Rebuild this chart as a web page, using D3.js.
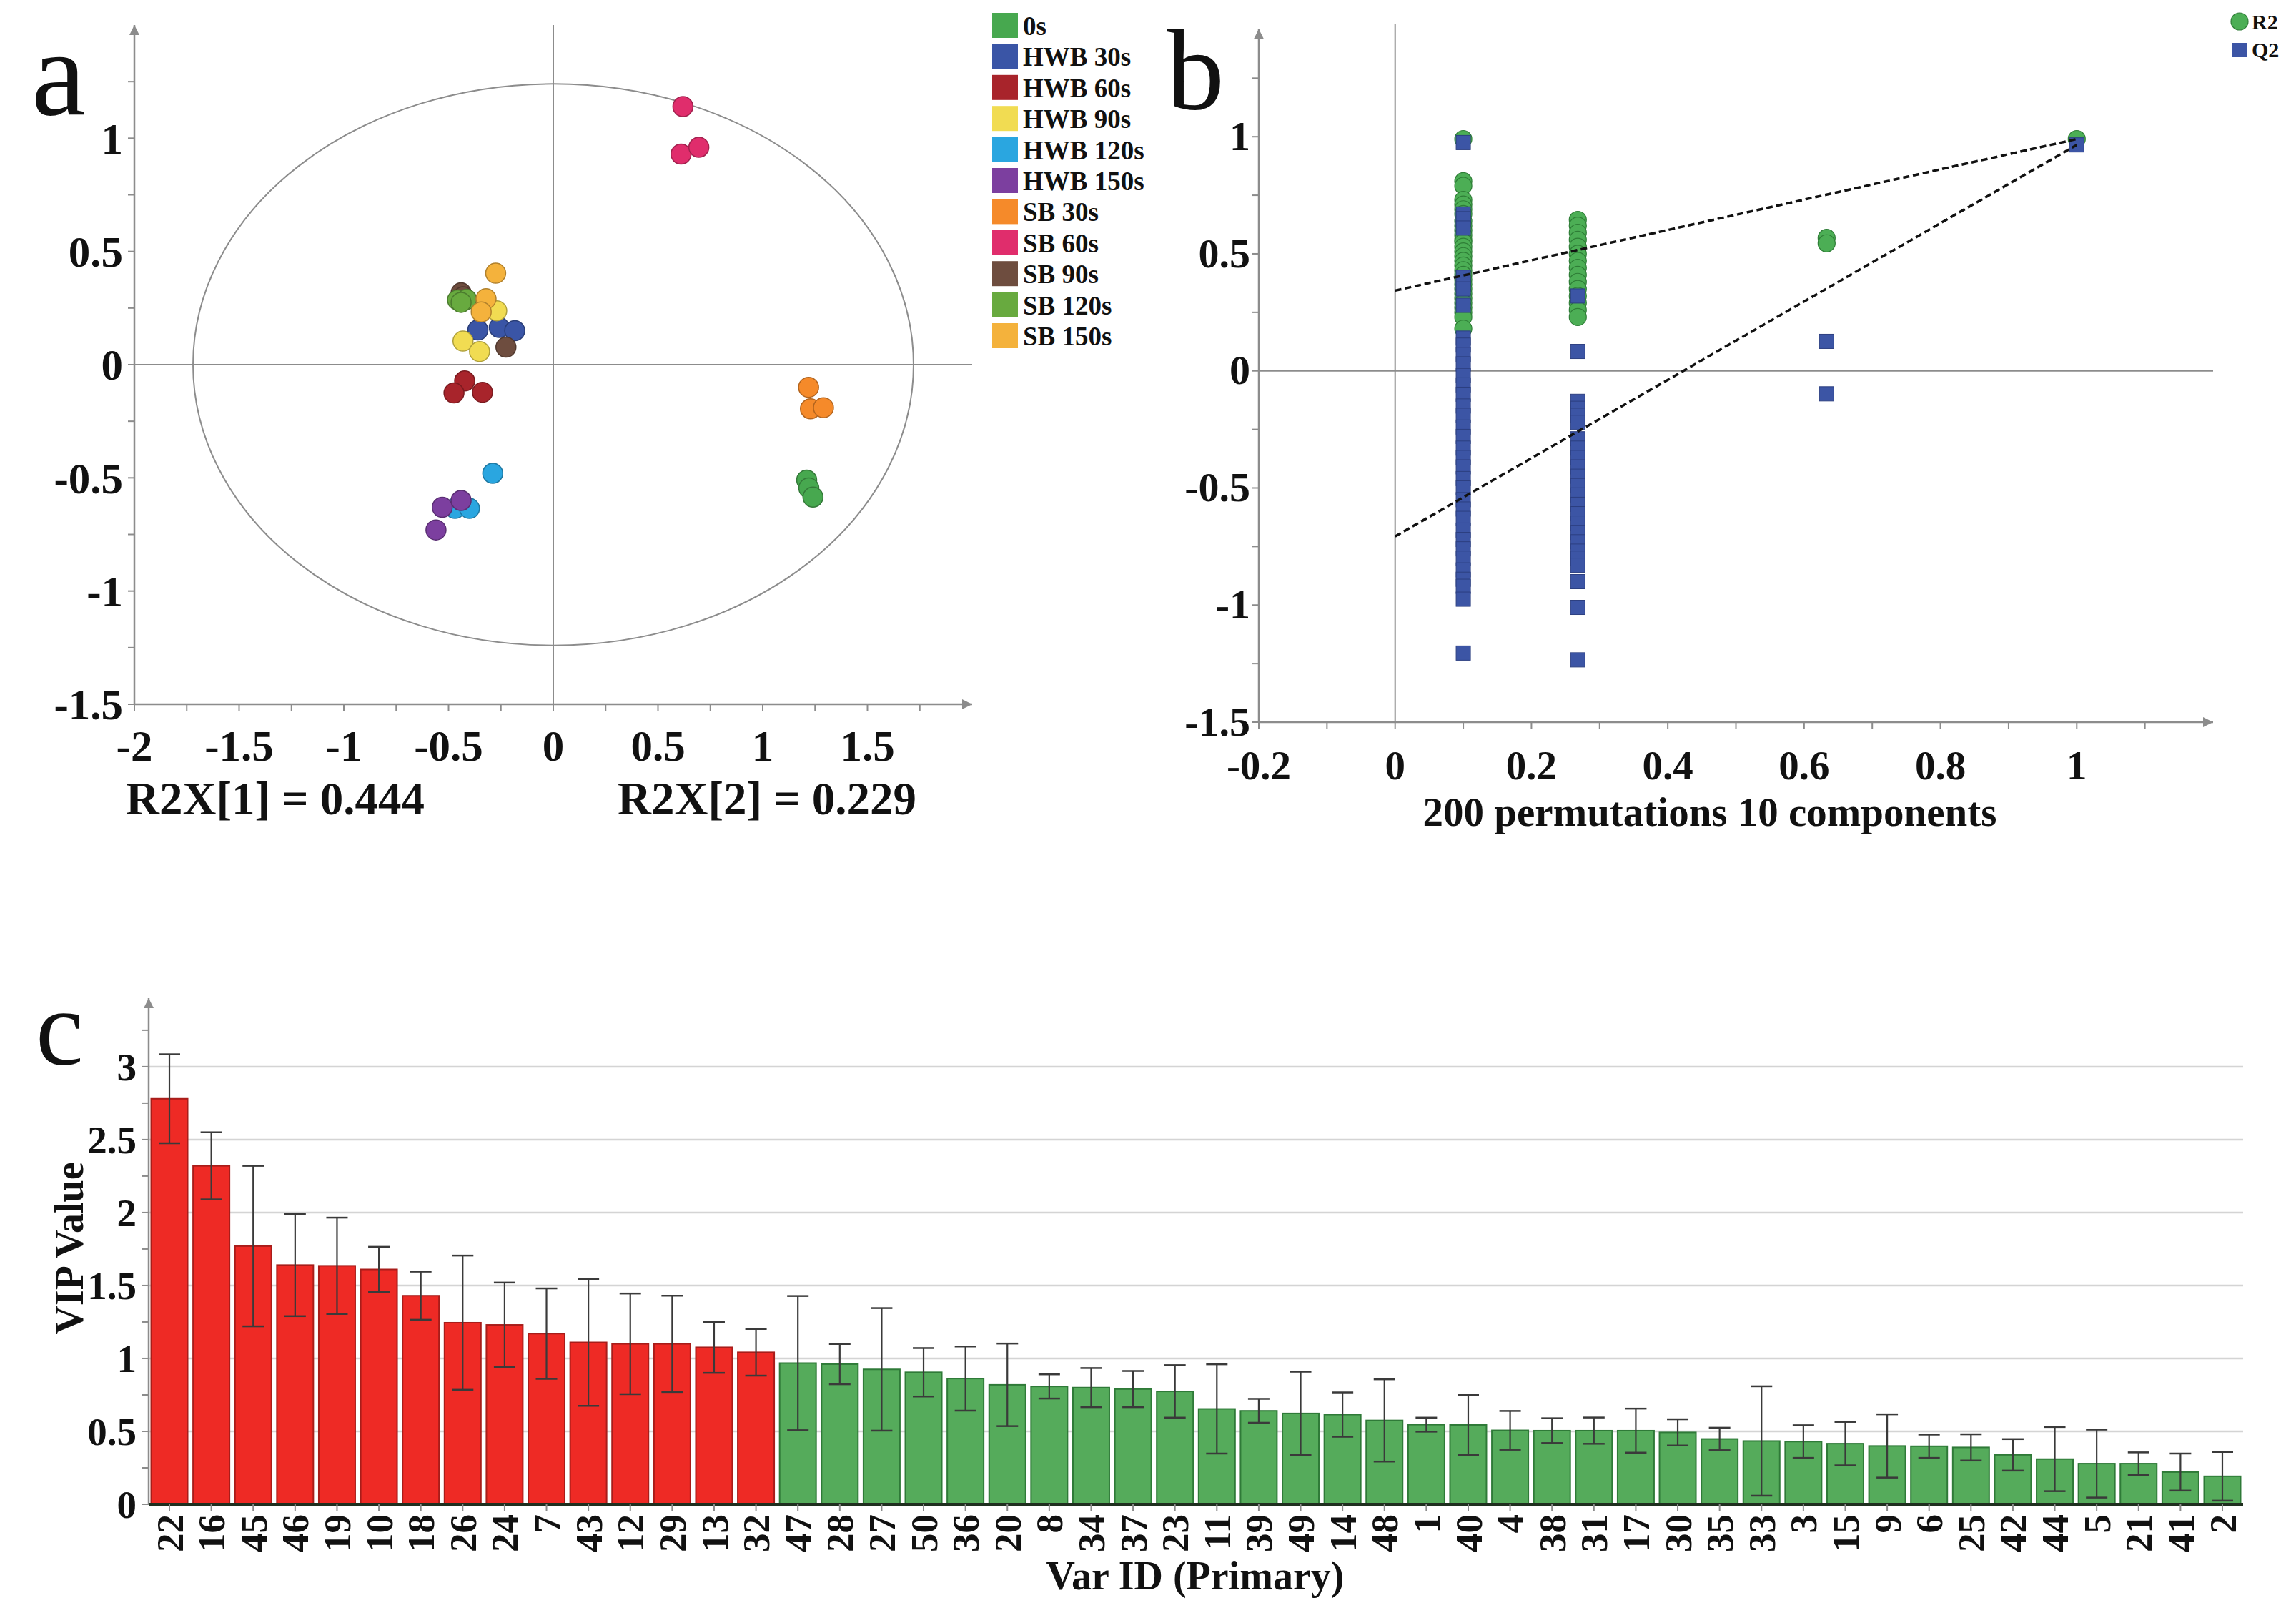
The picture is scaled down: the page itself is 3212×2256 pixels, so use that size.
<!DOCTYPE html>
<html>
<head>
<meta charset="utf-8">
<script src="https://cdn.jsdelivr.net/npm/d3@7"></script>
<style>
  body { margin: 0; background: #fff; }
  svg { display: block; }
</style>
</head>
<body>
<svg width="3212" height="2256"></svg>
<script>
const W = 3212, H = 2256;
const SERIF = '"Liberation Serif", "Times New Roman", serif';

// ---- panel a: score plot ----
const groups = ['0s', 'HWB 30s', 'HWB 60s', 'HWB 90s', 'HWB 120s', 'HWB 150s',
                'SB 30s', 'SB 60s', 'SB 90s', 'SB 120s', 'SB 150s'];
const groupColors = ['#47a84f', '#3a55a6', '#a8242b', '#f1dc52', '#2aa6e0', '#7c3f9f',
                     '#f58a2a', '#e02d6c', '#6e4d3f', '#68aa3f', '#f4b23c'];
const scoreGroup = [0,0,0, 1,1,1, 2,2,2, 3,3,3, 4,4,4, 5,5,5, 6,6,6, 7,7,7, 8,8,8, 9,9,9, 10,10,10];
const scoreT1 = [1.21, 1.22, 1.24,  -0.36, -0.258, -0.184,  -0.423, -0.474, -0.338,
                 -0.27, -0.431, -0.352,  -0.289, -0.469, -0.40,  -0.53, -0.44, -0.56,
                 1.219, 1.228, 1.29,  0.619, 0.61, 0.695,  -0.44, -0.43, -0.226,
                 -0.457, -0.414, -0.44,  -0.275, -0.321, -0.344];
const scoreT2 = [-0.51, -0.545, -0.585,  0.153, 0.164, 0.15,  -0.072, -0.125, -0.122,
                 0.238, 0.104, 0.058,  -0.48, -0.635, -0.635,  -0.63, -0.60, -0.73,
                 -0.10, -0.195, -0.19,  1.14, 0.93, 0.96,  0.317, 0.30, 0.077,
                 0.286, 0.288, 0.275,  0.404, 0.291, 0.233];
const ellipseRadii = [1.72, 1.24];
const r2xLabels = ['R2X[1] = 0.444', 'R2X[2] = 0.229'];

// ---- panel b: permutation test ----
const permCorr = [0.1, 0.268, 0.633, 1.0];
const r2Perm = [
  [0.99, 0.81, 0.79, 0.73, 0.71, 0.69, 0.67, 0.64, 0.62, 0.60, 0.58, 0.56, 0.55, 0.53, 0.51,
   0.49, 0.47, 0.45, 0.43, 0.41, 0.39, 0.37, 0.35, 0.33, 0.31, 0.29, 0.27, 0.25, 0.23, 0.18],
  [0.645, 0.62, 0.59, 0.56, 0.53, 0.50, 0.47, 0.44, 0.41, 0.38, 0.35, 0.32, 0.29, 0.26, 0.23],
  [0.568, 0.545],
  [0.99]
];
const q2Perm = [
  [0.975, 0.67, 0.65, 0.61, 0.40, 0.37, 0.35, 0.28, 0.14, 0.11, 0.07, 0.03, -0.02, -0.06,
   -0.10, -0.15, -0.19, -0.24, -0.28, -0.33, -0.37, -0.41, -0.46, -0.50, -0.55, -0.59,
   -0.63, -0.68, -0.72, -0.76, -0.80, -0.85, -0.89, -0.92, -0.975, -1.205],
  [0.32, 0.083, -0.13, -0.16, -0.19, -0.22, -0.29, -0.33, -0.37, -0.41, -0.45, -0.49,
   -0.53, -0.57, -0.61, -0.65, -0.69, -0.73, -0.77, -0.80, -0.83, -0.90, -1.01, -1.234],
  [0.126, -0.098],
  [0.965]
];
const r2Intercept = 0.343;
const q2Intercept = -0.707;
const permTitle = '200 permutations 10 components';

// ---- panel c: VIP ----
const varIds = [22, 16, 45, 46, 19, 10, 18, 26, 24, 7, 43, 12, 29, 13, 32, 47, 28, 27, 50, 36,
                20, 8, 34, 37, 23, 11, 39, 49, 14, 48, 1, 40, 4, 38, 31, 17, 30, 35, 33, 3,
                15, 9, 6, 25, 42, 44, 5, 21, 41, 2];
const vipValues = [2.78, 2.32, 1.77, 1.64, 1.635, 1.61, 1.43, 1.245, 1.23, 1.17, 1.11, 1.10, 1.10,
                   1.076, 1.042, 0.968, 0.961, 0.925, 0.905, 0.862, 0.819, 0.808, 0.80, 0.79, 0.774,
                   0.654, 0.641, 0.623, 0.615, 0.575, 0.546, 0.544, 0.507, 0.505, 0.505, 0.505,
                   0.493, 0.448, 0.434, 0.43, 0.416, 0.40, 0.398, 0.39, 0.339, 0.31, 0.279, 0.279,
                   0.221, 0.192];
const vipErrors = [0.305, 0.23, 0.55, 0.35, 0.33, 0.155, 0.165, 0.46, 0.29, 0.31, 0.435, 0.345, 0.33,
                   0.175, 0.16, 0.46, 0.138, 0.42, 0.166, 0.22, 0.283, 0.083, 0.134, 0.124, 0.18,
                   0.306, 0.082, 0.286, 0.152, 0.282, 0.048, 0.205, 0.133, 0.085, 0.09, 0.151,
                   0.09, 0.077, 0.375, 0.112, 0.149, 0.217, 0.08, 0.09, 0.108, 0.22, 0.233, 0.077,
                   0.127, 0.167];

const svg = d3.select('svg');
svg.append('rect').attr('width', W).attr('height', H).attr('fill', '#fff');

const AXIS = '#8c8c8c';
svg.append('defs').append('marker')
  .attr('id', 'arrow')
  .attr('viewBox', '0 0 10 10')
  .attr('refX', 10).attr('refY', 5)
  .attr('markerUnits', 'userSpaceOnUse')
  .attr('markerWidth', 24).attr('markerHeight', 14)
  .attr('orient', 'auto')
  .append('path').attr('d', 'M0,0 L10,5 L0,10 z').attr('fill', AXIS);

const fmt = d => String(+d.toFixed(2));
const steps = (a, b, s) => d3.range(Math.round((b - a) / s) + 1).map(i => +(a + i * s).toFixed(3));

function axisLine(g, x1, y1, x2, y2, arrow) {
  const l = g.append('line')
    .attr('x1', x1).attr('y1', y1).attr('x2', x2).attr('y2', y2)
    .attr('stroke', AXIS).attr('stroke-width', 2.5);
  if (arrow) l.attr('marker-end', 'url(#arrow)');
  return l;
}

function drawXTicks(g, x, yPos, ticks, labels, size, labelY) {
  g.selectAll(null).data(ticks).join('line')
    .attr('x1', d => x(d)).attr('x2', d => x(d))
    .attr('y1', yPos).attr('y2', yPos + 9)
    .attr('stroke', AXIS).attr('stroke-width', 2);
  g.selectAll(null).data(labels).join('text')
    .attr('x', d => x(d)).attr('y', labelY)
    .attr('text-anchor', 'middle')
    .attr('font-family', SERIF).attr('font-weight', 'bold').attr('font-size', size)
    .attr('fill', '#111')
    .text(fmt);
}

function drawYTicks(g, y, xPos, ticks, labels, size, labelX, dy = '0.35em') {
  g.selectAll(null).data(ticks).join('line')
    .attr('x1', xPos - 9).attr('x2', xPos)
    .attr('y1', d => y(d)).attr('y2', d => y(d))
    .attr('stroke', AXIS).attr('stroke-width', 2);
  g.selectAll(null).data(labels).join('text')
    .attr('x', labelX).attr('y', d => y(d))
    .attr('dy', dy)
    .attr('text-anchor', 'end')
    .attr('font-family', SERIF).attr('font-weight', 'bold').attr('font-size', size)
    .attr('fill', '#111')
    .text(fmt);
}

function panelLetter(txt, x, y, size) {
  svg.append('text').attr('x', x).attr('y', y)
    .attr('font-family', SERIF).attr('font-size', size).attr('fill', '#111')
    .text(txt);
}

// ================= panel a =================
{
  const g = svg.append('g');
  const x = d3.scaleLinear([-2, 2], [188, 1360]);
  const y = d3.scaleLinear([-1.5, 1.5], [985, 35]);

  // zero lines
  axisLine(g, x(0), y(1.5), x(0), y(-1.5), false).attr('stroke-width', 2);
  axisLine(g, x(-2), y(0), x(2), y(0), false).attr('stroke-width', 2);

  // Hotelling ellipse
  g.append('ellipse')
    .attr('cx', x(0)).attr('cy', y(0))
    .attr('rx', x(ellipseRadii[0]) - x(0))
    .attr('ry', y(0) - y(ellipseRadii[1]))
    .attr('fill', 'none').attr('stroke', '#8c8c8c').attr('stroke-width', 2);

  // axes
  axisLine(g, x(-2), y(-1.5), x(-2), y(1.5), true);
  axisLine(g, x(-2), y(-1.5), x(2), y(-1.5), true);
  drawXTicks(g, x, y(-1.5), steps(-2, 1.75, 0.25), steps(-2, 1.5, 0.5), 61, 1064);
  drawYTicks(g, y, x(-2), steps(-1.5, 1.25, 0.25), steps(-1.5, 1, 0.5), 61, 172);

  // scores
  g.selectAll('circle.score').data(scoreT1.map((t, i) => i)).join('circle')
    .attr('class', 'score')
    .attr('cx', i => x(scoreT1[i])).attr('cy', i => y(scoreT2[i]))
    .attr('r', 14)
    .attr('fill', i => groupColors[scoreGroup[i]])
    .attr('stroke', i => d3.color(groupColors[scoreGroup[i]]).darker(0.9))
    .attr('stroke-width', 1.5);

  // R2X labels
  g.append('text').attr('x', 176).attr('y', 1139)
    .attr('font-family', SERIF).attr('font-weight', 'bold').attr('font-size', 65)
    .attr('fill', '#111').text(r2xLabels[0]);
  g.append('text').attr('x', 864).attr('y', 1139)
    .attr('font-family', SERIF).attr('font-weight', 'bold').attr('font-size', 65)
    .attr('fill', '#111').text(r2xLabels[1]);

  // legend
  const lg = g.append('g');
  lg.selectAll('rect').data(groups).join('rect')
    .attr('x', 1388).attr('y', (d, i) => 18 + i * 43.4)
    .attr('width', 36).attr('height', 35)
    .attr('fill', (d, i) => groupColors[i]);
  lg.selectAll('text').data(groups).join('text')
    .attr('x', 1431).attr('y', (d, i) => 18 + i * 43.4 + 31)
    .attr('font-family', SERIF).attr('font-weight', 'bold').attr('font-size', 37)
    .attr('fill', '#111').text(d => d);

  panelLetter('a', 44, 160, 172);
}

// ================= panel b =================
{
  const g = svg.append('g');
  const x = d3.scaleLinear([-0.2, 1.2], [1761, 3096]);
  const y = d3.scaleLinear([-1.5, 1.48], [1010, 34]);

  axisLine(g, x(0), y(1.48), x(0), y(-1.5), false).attr('stroke-width', 2);
  axisLine(g, x(-0.2), y(0), x(1.2), y(0), false).attr('stroke-width', 2);

  axisLine(g, x(-0.2), y(-1.5), x(-0.2), y(1.46), true);
  axisLine(g, x(-0.2), y(-1.5), x(1.2), y(-1.5), true);
  drawXTicks(g, x, y(-1.5), steps(-0.2, 1.1, 0.1), steps(-0.2, 1, 0.2), 57, 1090);
  drawYTicks(g, y, x(-0.2), steps(-1.5, 1.25, 0.25), steps(-1.5, 1, 0.5), 58, 1749, '0.32em');

  const r2Pts = permCorr.flatMap((c, i) => r2Perm[i].map(v => [c, v]));
  const q2Pts = permCorr.flatMap((c, i) => q2Perm[i].map(v => [c, v]));

  g.selectAll('circle.r2').data(r2Pts).join('circle')
    .attr('class', 'r2')
    .attr('cx', d => x(d[0])).attr('cy', d => y(d[1]))
    .attr('r', 12)
    .attr('fill', '#4cae55').attr('stroke', '#2e7d36').attr('stroke-width', 1.2);
  g.selectAll('rect.q2').data(q2Pts).join('rect')
    .attr('class', 'q2')
    .attr('x', d => x(d[0]) - 10).attr('y', d => y(d[1]) - 10)
    .attr('width', 20).attr('height', 20)
    .attr('fill', '#3c55a5').attr('stroke', '#2c3f80').attr('stroke-width', 1);

  const last = permCorr.length - 1;
  const lines = [
    [[0, r2Intercept], [permCorr[last], r2Perm[last][0]]],
    [[0, q2Intercept], [permCorr[last], q2Perm[last][0]]]
  ];
  g.selectAll('path.reg').data(lines).join('path')
    .attr('class', 'reg')
    .attr('d', d3.line().x(d => x(d[0])).y(d => y(d[1])))
    .attr('fill', 'none').attr('stroke', '#111')
    .attr('stroke-width', 3.5).attr('stroke-dasharray', '9,5');

  g.append('text').attr('x', 2392).attr('y', 1155)
    .attr('text-anchor', 'middle')
    .attr('font-family', SERIF).attr('font-weight', 'bold').attr('font-size', 57)
    .attr('fill', '#111').text(permTitle);

  // legend
  g.append('circle').attr('cx', 3133).attr('cy', 30).attr('r', 12)
    .attr('fill', '#4cae55').attr('stroke', '#2e7d36').attr('stroke-width', 1.2);
  g.append('text').attr('x', 3150).attr('y', 41)
    .attr('font-family', SERIF).attr('font-weight', 'bold').attr('font-size', 30)
    .attr('fill', '#111').text('R2');
  g.append('rect').attr('x', 3123).attr('y', 60).attr('width', 20).attr('height', 20)
    .attr('fill', '#3c55a5');
  g.append('text').attr('x', 3150).attr('y', 80)
    .attr('font-family', SERIF).attr('font-weight', 'bold').attr('font-size', 30)
    .attr('fill', '#111').text('Q2');

  panelLetter('b', 1632, 152, 162);
}

// ================= panel c =================
{
  const g = svg.append('g');
  const x = d3.scaleBand(varIds.map(String), [208, 3138]).paddingInner(0.13).paddingOuter(0.06);
  const y = d3.scaleLinear([0, 3.47], [2104, 1396]);

  // gridlines
  g.selectAll('line.grid').data(steps(0.5, 3, 0.5)).join('line')
    .attr('class', 'grid')
    .attr('x1', 208).attr('x2', 3138)
    .attr('y1', d => y(d)).attr('y2', d => y(d))
    .attr('stroke', '#d4d4d4').attr('stroke-width', 2.5);

  // bars
  g.selectAll('rect.bar').data(varIds.map((v, i) => i)).join('rect')
    .attr('class', 'bar')
    .attr('x', i => x(String(varIds[i]))).attr('width', x.bandwidth())
    .attr('y', i => y(vipValues[i])).attr('height', i => y(0) - y(vipValues[i]))
    .attr('fill', i => vipValues[i] > 1 ? '#ee2a25' : '#55ab5b')
    .attr('stroke', i => vipValues[i] > 1 ? '#a81d1a' : '#2f7a38')
    .attr('stroke-width', 2);

  // error bars
  const eb = g.selectAll('g.err').data(varIds.map((v, i) => i)).join('g').attr('class', 'err');
  const cx = i => x(String(varIds[i])) + x.bandwidth() / 2;
  eb.append('line')
    .attr('x1', cx).attr('x2', cx)
    .attr('y1', i => y(vipValues[i] + vipErrors[i]))
    .attr('y2', i => y(Math.max(0, vipValues[i] - vipErrors[i])))
    .attr('stroke', '#3a3a3a').attr('stroke-width', 2.2);
  [1, -1].forEach(s => {
    eb.append('line')
      .attr('x1', i => cx(i) - 15).attr('x2', i => cx(i) + 15)
      .attr('y1', i => y(vipValues[i] + s * vipErrors[i]))
      .attr('y2', i => y(vipValues[i] + s * vipErrors[i]))
      .attr('stroke', '#3a3a3a').attr('stroke-width', 2.5);
  });

  // axes
  axisLine(g, 208, y(0), 208, y(3.47), true);
  g.append('line').attr('x1', 208).attr('x2', 3138).attr('y1', y(0)).attr('y2', y(0))
    .attr('stroke', '#1f2f1f').attr('stroke-width', 4);
  drawYTicks(g, y, 208, steps(0, 3.25, 0.25), steps(0, 3, 0.5), 55, 191);

  g.selectAll('line.xt').data(varIds).join('line')
    .attr('class', 'xt')
    .attr('x1', d => x(String(d)) + x.bandwidth() / 2).attr('x2', d => x(String(d)) + x.bandwidth() / 2)
    .attr('y1', y(0)).attr('y2', y(0) + 10)
    .attr('stroke', AXIS).attr('stroke-width', 2);
  g.selectAll('text.xl').data(varIds).join('text')
    .attr('class', 'xl')
    .attr('transform', d => `translate(${x(String(d)) + x.bandwidth() / 2},2118) rotate(-90)`)
    .attr('dy', '0.35em')
    .attr('text-anchor', 'end')
    .attr('font-family', SERIF).attr('font-weight', 'bold').attr('font-size', 53)
    .attr('fill', '#111').text(d => d);

  g.append('text').attr('x', 1672).attr('y', 2223)
    .attr('text-anchor', 'middle')
    .attr('font-family', SERIF).attr('font-weight', 'bold').attr('font-size', 56)
    .attr('fill', '#111').text('Var ID (Primary)');
  g.append('text').attr('transform', 'translate(116,1746) rotate(-90)')
    .attr('text-anchor', 'middle')
    .attr('font-family', SERIF).attr('font-weight', 'bold').attr('font-size', 56)
    .attr('fill', '#111').text('VIP Value');

  panelLetter('c', 50, 1489, 150);
}
</script>
</body>
</html>
